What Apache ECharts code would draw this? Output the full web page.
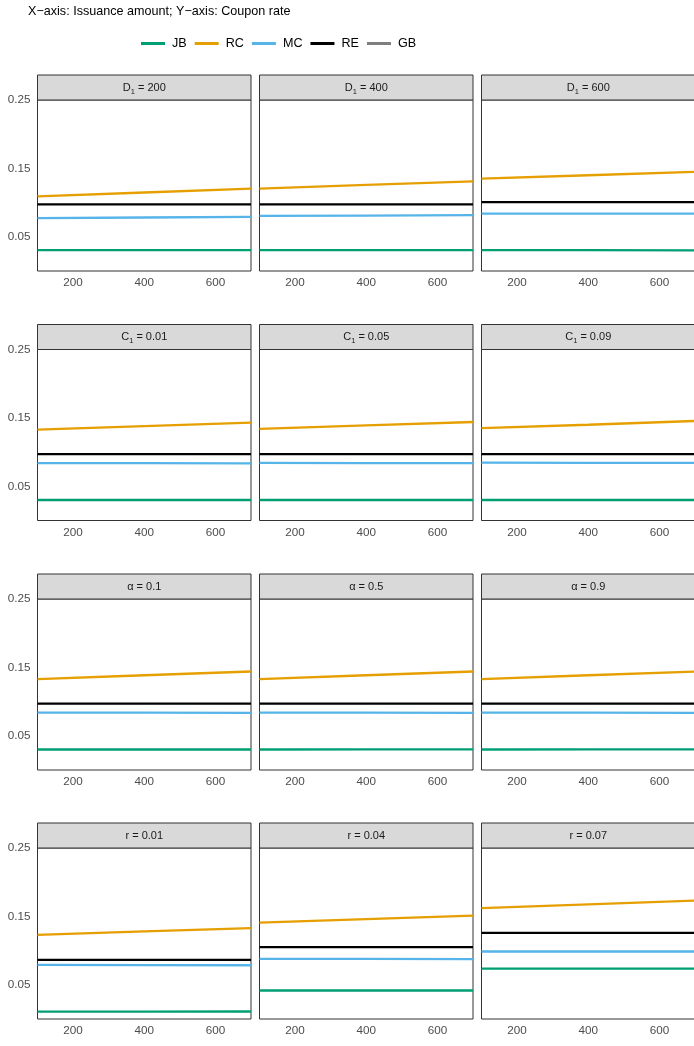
<!DOCTYPE html>
<html>
<head>
<meta charset="utf-8">
<script src="https://cdn.jsdelivr.net/npm/echarts@6/dist/echarts.min.js"></script>
<style>
  html, body { margin: 0; padding: 0; background: #ffffff; }
  #chart { width: 694px; height: 1046px; }
</style>
</head>
<body>
<div id="chart"></div>
<script>
// Issuance amounts at which each coupon-rate curve is evaluated
const issuance = [100, 400, 700];

// Bond types, legend order
const bondNames = ['JB', 'RC', 'MC', 'RE', 'GB'];
const bondColors = ['#009E73', '#E69F00', '#56B4E9', '#000000', '#7F7F7F'];

// Facet labels (rich text: {s|..} marks a subscript), row by row
const panelLabels = [
  'D{s|1} = 200', 'D{s|1} = 400', 'D{s|1} = 600',
  'C{s|1} = 0.01', 'C{s|1} = 0.05', 'C{s|1} = 0.09',
  'α = 0.1', 'α = 0.5', 'α = 0.9',
  'r = 0.01', 'r = 0.04', 'r = 0.07'
];

// Coupon rates per panel, at issuance 100 / 400 / 700
const JB = [
  [0.0304, 0.0304, 0.0304], [0.0304, 0.0304, 0.0304], [0.0306, 0.0304, 0.0302],
  [0.0300, 0.0300, 0.0300], [0.0300, 0.0300, 0.0300], [0.0300, 0.0300, 0.0300],
  [0.0300, 0.0300, 0.0300], [0.0300, 0.0301, 0.0302], [0.0300, 0.0301, 0.0302],
  [0.0107, 0.0108, 0.0110], [0.0417, 0.0417, 0.0417], [0.0736, 0.0736, 0.0736]
];
const RC = [
  [0.1090, 0.1148, 0.1205], [0.1205, 0.1258, 0.1310], [0.1350, 0.1400, 0.1450],
  [0.1330, 0.1380, 0.1430], [0.1340, 0.1390, 0.1440], [0.1350, 0.1400, 0.1455],
  [0.1330, 0.1385, 0.1440], [0.1330, 0.1385, 0.1440], [0.1330, 0.1385, 0.1440],
  [0.1230, 0.1280, 0.1330], [0.1410, 0.1460, 0.1510], [0.1620, 0.1675, 0.1730]
];
const MC = [
  [0.0772, 0.0782, 0.0791], [0.0806, 0.0811, 0.0816], [0.0840, 0.0840, 0.0840],
  [0.0840, 0.0838, 0.0836], [0.0842, 0.0840, 0.0838], [0.0845, 0.0843, 0.0841],
  [0.0840, 0.0838, 0.0836], [0.0840, 0.0838, 0.0836], [0.0840, 0.0838, 0.0836],
  [0.0790, 0.0788, 0.0786], [0.0880, 0.0878, 0.0876], [0.0987, 0.0987, 0.0987]
];
const RE = [
  [0.0973, 0.0973, 0.0973], [0.0973, 0.0973, 0.0973], [0.1008, 0.1008, 0.1008],
  [0.0970, 0.0970, 0.0970], [0.0970, 0.0970, 0.0970], [0.0970, 0.0970, 0.0970],
  [0.0970, 0.0970, 0.0970], [0.0970, 0.0970, 0.0970], [0.0970, 0.0970, 0.0970],
  [0.0865, 0.0865, 0.0865], [0.1050, 0.1050, 0.1050], [0.1260, 0.1260, 0.1260]
];
const GB = []; // listed in the legend only

// Tick labels
const xTickLabels = [200, 400, 600];
const yTickLabels = [0.05, 0.15, 0.25];

// Facet layout (pixels)
const colLeft = [37.5, 259.5, 481.5];
const rowTop = [100, 349.5, 599, 848];
const panelW = 213.5;
const panelH = 171;
const stripH = 25;

const FONT = '"Liberation Sans", Arial, sans-serif';
const grids = [], xAxes = [], yAxes = [], series = [], graphics = [];

const toPairs = vals => issuance.map((x, k) => [x, vals[k]]);

panelLabels.forEach((label, i) => {
  const r = Math.floor(i / 3), c = i % 3;
  const left = colLeft[c], top = rowTop[r];
  grids.push({
    left: left, top: top, width: panelW, height: panelH,
    outerBoundsMode: 'none', containLabel: false,
    show: true, backgroundColor: '#ffffff', borderColor: '#333333', borderWidth: 1
  });
  xAxes.push({
    type: 'value', gridIndex: i, min: 100, max: 700, interval: 100,
    axisLine: { show: false }, axisTick: { show: false }, splitLine: { show: false },
    axisLabel: {
      margin: 6, color: '#4D4D4D', fontSize: 11.7, fontFamily: FONT,
      showMinLabel: true, showMaxLabel: true,
      formatter: v => (xTickLabels.indexOf(Math.round(v)) >= 0 ? String(Math.round(v)) : '')
    }
  });
  yAxes.push({
    type: 'value', gridIndex: i, min: 0, max: 0.25, interval: 0.05,
    axisLine: { show: false }, axisTick: { show: false }, splitLine: { show: false },
    axisLabel: {
      show: c === 0, margin: 7, color: '#4D4D4D', fontSize: 11.7, fontFamily: FONT,
      formatter: v => {
        const hit = yTickLabels.find(t => Math.abs(t - v) < 1e-9);
        return hit === undefined ? '' : hit.toFixed(2);
      }
    }
  });
  [JB, RC, MC, RE].forEach((arr, k) => {
    series.push({
      name: bondNames[k], type: 'line', xAxisIndex: i, yAxisIndex: i,
      data: toPairs(arr[i]), symbol: 'none', silent: true,
      color: bondColors[k],
      lineStyle: { width: 2.3, color: bondColors[k] },
      z: 2 + k
    });
  });
  // facet strip
  graphics.push({
    type: 'rect', silent: true, z: 10,
    shape: { x: left, y: top - stripH, width: panelW, height: stripH },
    style: { fill: '#D9D9D9', stroke: '#333333', lineWidth: 1 }
  });
  graphics.push({
    type: 'text', silent: true, z: 11,
    x: left + panelW / 2, y: top - stripH / 2,
    style: {
      text: label, align: 'center', verticalAlign: 'middle',
      fill: '#1A1A1A', font: '11px ' + FONT,
      rich: {
        s: { fontSize: 7.5, fontFamily: FONT, lineHeight: 8, verticalAlign: 'bottom', fill: '#1A1A1A' }
      },
      lineHeight: 16
    }
  });
});

series.push({
  name: 'GB', type: 'line', xAxisIndex: 0, yAxisIndex: 0, data: GB,
  symbol: 'none', color: bondColors[4], lineStyle: { width: 2.3, color: bondColors[4] }
});

const chart = echarts.init(document.getElementById('chart'), null, { renderer: 'canvas' });
chart.setOption({
  animation: false,
  backgroundColor: '#ffffff',
  title: {
    text: 'X\u2212axis: Issuance amount; Y\u2212axis: Coupon rate',
    left: 28, top: 5, padding: 0,
    textStyle: { fontSize: 12.6, fontWeight: 'normal', color: '#000000', fontFamily: FONT }
  },
  legend: {
    data: bondNames,
    left: 141, top: 37, padding: 0,
    icon: 'rect', itemWidth: 24, itemHeight: 3, itemGap: 8,
    textStyle: { fontSize: 12.6, color: '#000000', fontFamily: FONT, padding: [0, 0, 0, 2] },
    selectedMode: false
  },
  grid: grids,
  xAxis: xAxes,
  yAxis: yAxes,
  series: series,
  graphic: graphics
});
</script>
</body>
</html>
